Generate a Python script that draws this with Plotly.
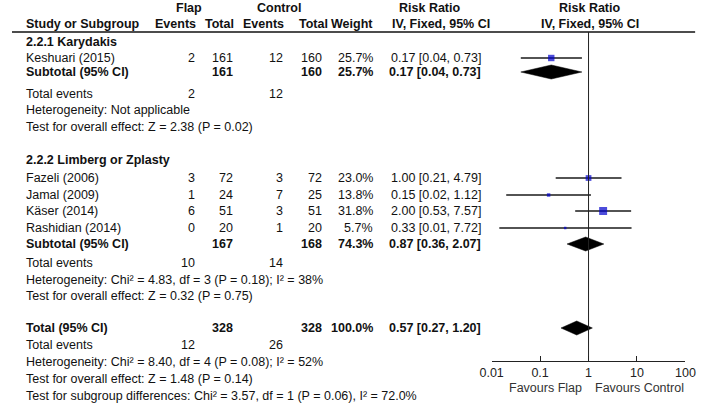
import plotly.graph_objects as go

W, H = 709, 406
FONT = "Liberation Sans, Arial, sans-serif"
FS = 12.5

# ---------------- data ----------------
group_titles = ["2.2.1 Karydakis", "2.2.2 Limberg or Zplasty"]
study_group = [0, 1, 1, 1, 1]
study_names = ["Keshuari (2015)", "Fazeli (2006)", "Jamal (2009)", "Käser (2014)", "Rashidian (2014)"]
flap_events = [2, 3, 1, 6, 0]
flap_totals = [161, 72, 24, 51, 20]
ctrl_events = [12, 3, 7, 3, 1]
ctrl_totals = [160, 72, 25, 51, 20]
weights = [25.7, 23.0, 13.8, 31.8, 5.7]
rr = [0.17, 1.00, 0.15, 2.00, 0.33]
rr_lo = [0.04, 0.21, 0.02, 0.53, 0.0144]
rr_hi = [0.73, 4.79, 1.12, 7.57, 7.72]

sub_flap_totals = [161, 167]
sub_ctrl_totals = [160, 168]
sub_flap_events = [2, 10]
sub_ctrl_events = [12, 14]
sub_weights = [25.7, 74.3]
sub_rr = [0.17, 0.87]
sub_lo = [0.04, 0.36]
sub_hi = [0.73, 2.07]
sub_heterogeneity = ["Heterogeneity: Not applicable",
                     "Heterogeneity: Chi² = 4.83, df = 3 (P = 0.18); I² = 38%"]
sub_effect = ["Test for overall effect: Z = 2.38 (P = 0.02)",
              "Test for overall effect: Z = 0.32 (P = 0.75)"]

total_flap = 328
total_ctrl = 328
total_flap_events = 12
total_ctrl_events = 26
total_weight = 100.0
total_rr = 0.57
total_lo = 0.27
total_hi = 1.20
total_heterogeneity = "Heterogeneity: Chi² = 8.40, df = 4 (P = 0.08); I² = 52%"
total_effect = "Test for overall effect: Z = 1.48 (P = 0.14)"
subgroup_test = "Test for subgroup differences: Chi² = 3.57, df = 1 (P = 0.06), I² = 72.0%"

axis_ticks = [0.01, 0.1, 1, 10, 100]
axis_ticktext = ["0.01", "0.1", "1", "10", "100"]
favours_left = "Favours Flap"
favours_right = "Favours Control"

# ---------------- layout (pixel rows / columns) ----------------
group_title_y = [42, 160]
study_y = [58, 178, 195, 211, 228]
subtotal_y = [72, 244]
sub_events_y = [94, 263]
sub_het_y = [110, 280]
sub_eff_y = [127, 296]
total_y = 328
total_events_y = 345
total_het_y = 362
total_eff_y = 379
subgroup_y = 396

X_NAME = 13
X_FE = 190
X_FT = 229
X_CE = 281
X_CT = 321
X_W = 374
X_RR = 485
AXIS_Y = 361
HEADER_LINE_Y = 32

fig = go.Figure()


def txt(s, x, y, anchor="left", bold=False, color="#111111", size=FS):
    fig.add_annotation(text=f"<b>{s}</b>" if bold else s, x=x / W, y=1 - y / H,
                       xref="paper", yref="paper", xanchor=anchor, yanchor="middle",
                       showarrow=False, borderpad=0,
                       font=dict(family=FONT, size=size, color=color))


def rr_text(e, l, h):
    return f"{e:.2f} [{l:.2f}, {h:.2f}]"


# headers
txt("Flap", 183, 8, "center", True)
txt("Control", 276, 8, "center", True)
txt("Risk Ratio", 431, 8, "center", True)
txt("Risk Ratio", 596, 8, "center", True)
txt("Study or Subgroup", X_NAME, 24, "left", True)
txt("Events", X_FE + 1, 24, "right", True)
txt("Total", X_FT + 1, 24, "right", True)
txt("Events", X_CE + 1, 24, "right", True)
txt("Total", 327, 24, "right", True)
txt("Weight", X_W, 24, "right", True)
txt("IV, Fixed, 95% CI", 443, 24, "center", True)
txt("IV, Fixed, 95% CI", 597, 24, "center", True)

fig.add_shape(type="line", xref="paper", yref="paper", x0=0, x1=705 / W,
              y0=1 - HEADER_LINE_Y / H, y1=1 - HEADER_LINE_Y / H,
              line=dict(color="#111111", width=1.5))

# groups
for g in range(2):
    txt(group_titles[g], X_NAME, group_title_y[g], "left", True)
    for i, sg in enumerate(study_group):
        if sg != g:
            continue
        y = study_y[i]
        txt(study_names[i], X_NAME, y)
        txt(str(flap_events[i]), X_FE, y, "right")
        txt(str(flap_totals[i]), X_FT, y, "right")
        txt(str(ctrl_events[i]), X_CE, y, "right")
        txt(str(ctrl_totals[i]), X_CT, y, "right")
        txt(f"{weights[i]:.1f}%", X_W, y, "right")
        txt(rr_text(rr[i], rr_lo[i], rr_hi[i]), X_RR, y, "right")
    y = subtotal_y[g]
    txt("Subtotal (95% CI)", X_NAME, y, "left", True)
    txt(str(sub_flap_totals[g]), X_FT, y, "right", True)
    txt(str(sub_ctrl_totals[g]), X_CT, y, "right", True)
    txt(f"{sub_weights[g]:.1f}%", X_W, y, "right", True)
    txt(rr_text(sub_rr[g], sub_lo[g], sub_hi[g]), X_RR, y, "right", True)
    txt("Total events", X_NAME, sub_events_y[g])
    txt(str(sub_flap_events[g]), X_FE, sub_events_y[g], "right")
    txt(str(sub_ctrl_events[g]), X_CE, sub_events_y[g], "right")
    txt(sub_heterogeneity[g], X_NAME, sub_het_y[g])
    txt(sub_effect[g], X_NAME, sub_eff_y[g])

# overall
txt("Total (95% CI)", X_NAME, total_y, "left", True)
txt(str(total_flap), X_FT, total_y, "right", True)
txt(str(total_ctrl), X_CT, total_y, "right", True)
txt(f"{total_weight:.1f}%", X_W, total_y, "right", True)
txt(rr_text(total_rr, total_lo, total_hi), X_RR, total_y, "right", True)
txt("Total events", X_NAME, total_events_y)
txt(str(total_flap_events), X_FE, total_events_y, "right")
txt(str(total_ctrl_events), X_CE, total_events_y, "right")
txt(total_heterogeneity, X_NAME, total_het_y)
txt(total_effect, X_NAME, total_eff_y)
txt(subgroup_test, X_NAME, subgroup_y)

txt(favours_left, 589, 388, "right", color="#333333")
txt(favours_right, 601, 388, "left", color="#333333")

# ---------------- forest plot ----------------
# line of no effect
fig.add_shape(type="line", xref="x", yref="y", x0=1, x1=1, y0=HEADER_LINE_Y, y1=AXIS_Y,
              line=dict(color="#222222", width=1))

# CI lines
ci_x, ci_y = [], []
for i in range(len(rr)):
    ci_x += [rr_lo[i], rr_hi[i], None]
    ci_y += [study_y[i], study_y[i], None]
fig.add_trace(go.Scatter(x=ci_x, y=ci_y, mode="lines", line=dict(color="#1a1a1a", width=1.3),
                         hoverinfo="skip", showlegend=False, cliponaxis=False))

# squares
fig.add_trace(go.Scatter(x=rr, y=study_y, mode="markers",
                         marker=dict(symbol="square", color="#0000CC",
                                     size=[max(2.5, w * 0.25) for w in weights],
                                     line=dict(width=0)),
                         showlegend=False, cliponaxis=False))


def diamond(est, lo, hi, y, h=7):
    fig.add_trace(go.Scatter(x=[lo, est, hi, est, lo], y=[y, y - h, y, y + h, y],
                             mode="lines", fill="toself", fillcolor="#000000",
                             line=dict(color="#000000", width=0.5),
                             showlegend=False, hoverinfo="skip", cliponaxis=False))


for g in range(2):
    diamond(sub_rr[g], sub_lo[g], sub_hi[g], subtotal_y[g])
diamond(total_rr, total_lo, total_hi, total_y)

fig.update_layout(
    width=W, height=H, margin=dict(l=0, r=0, t=0, b=0),
    paper_bgcolor="white", plot_bgcolor="white", showlegend=False,
    xaxis=dict(type="log", range=[-2, 2], domain=[495 / W, 695 / W],
               tickvals=axis_ticks, ticktext=axis_ticktext,
               ticks="inside", ticklen=5, tickcolor="#222222", tickwidth=1,
               showline=True, linecolor="#222222", linewidth=1,
               showgrid=False, zeroline=False,
               tickfont=dict(family=FONT, size=FS, color="#222222")),
    yaxis=dict(range=[AXIS_Y, 0], domain=[(H - AXIS_Y) / H, 1], visible=False,
               showgrid=False, zeroline=False),
)

fig.write_html("out.html", config={"displayModeBar": False},
               post_script="document.body.style.margin='0px';document.body.style.overflow='hidden';")
